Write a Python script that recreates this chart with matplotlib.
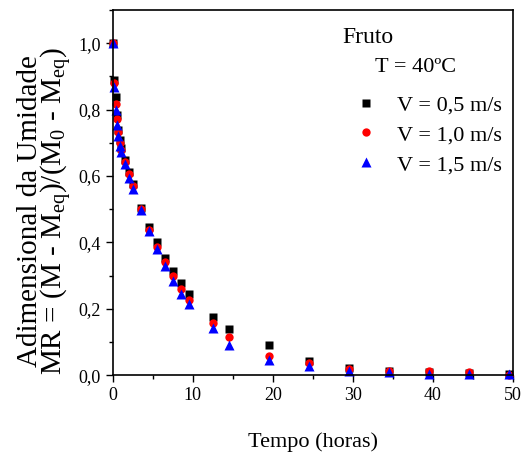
import matplotlib
matplotlib.use("Agg")
import matplotlib.pyplot as plt
from matplotlib.ticker import MultipleLocator, FuncFormatter

plt.rcParams['font.family'] = ['Liberation Serif', 'DejaVu Serif']
plt.rcParams['mathtext.fontset'] = 'custom'
plt.rcParams['mathtext.rm'] = 'Liberation Serif'
plt.rcParams['mathtext.it'] = 'Liberation Serif'

# tempo (horas)
tempo = [0, 0.17, 0.33, 0.5, 0.67, 0.83, 1.0, 1.5, 2.0, 2.5,
         3.5, 4.5, 5.5, 6.5, 7.5, 8.5, 9.5,
         12.5, 14.5, 19.5, 24.5, 29.5, 34.5, 39.5, 44.5, 49.5]

mr_v05 = [1.0, 0.89, 0.838, 0.783, 0.738, 0.708, 0.683, 0.649, 0.612, 0.575,
          0.503, 0.447, 0.40, 0.353, 0.314, 0.278, 0.246,
          0.174, 0.139, 0.092, 0.043, 0.021, 0.013, 0.010, 0.008, 0.003]
mr_v10 = [1.0, 0.88, 0.818, 0.773, 0.733, 0.70, 0.678, 0.643, 0.605, 0.569,
          0.50, 0.437, 0.386, 0.341, 0.298, 0.26, 0.228,
          0.156, 0.115, 0.058, 0.037, 0.018, 0.012, 0.013, 0.009, 0.002]
mr_v15 = [1.0, 0.868, 0.798, 0.753, 0.72, 0.69, 0.673, 0.635, 0.595, 0.562,
          0.497, 0.433, 0.38, 0.33, 0.284, 0.246, 0.213,
          0.141, 0.09, 0.045, 0.028, 0.013, 0.011, 0.003, 0.005, 0.005]

labels = ['V = 0,5 m/s', 'V = 1,0 m/s', 'V = 1,5 m/s']

fig = plt.figure(figsize=(5.25, 4.57), dpi=100)
ax = fig.add_axes([0.215, 0.179, 0.762, 0.799])

ax.plot(tempo, mr_v05, 's', color='black', ms=5.5, mec='none', clip_on=False, label=labels[0])
ax.plot(tempo, mr_v10, 'o', color='red', ms=6, mec='none', clip_on=False, label=labels[1])
ax.plot(tempo, mr_v15, '^', color='blue', ms=6.5, mec='none', clip_on=False, label=labels[2])

ax.set_xlim(0, 50)
ax.set_ylim(0, 1.1)
ax.xaxis.set_major_locator(MultipleLocator(10))
ax.xaxis.set_minor_locator(MultipleLocator(5))
ax.yaxis.set_major_locator(MultipleLocator(0.2))
ax.yaxis.set_minor_locator(MultipleLocator(0.1))
ax.yaxis.set_major_formatter(FuncFormatter(lambda v, p: f"{v:.1f}".replace('.', ',')))
ax.tick_params(which='both', direction='out', top=False, right=False, labelsize=13, width=1)
ax.tick_params(which='major', length=5)
ax.tick_params(which='minor', length=3)
for s in ax.spines.values():
    s.set_linewidth(1.2)

ax.set_xlabel('Tempo (horas)', fontsize=16, labelpad=20)
ax.set_ylabel('Adimensional da Umidade\n'
              r'MR = (M - M$_{\mathrm{eq}}$)/(M$_0$ - M$_{\mathrm{eq}}$)',
              fontsize=21, labelpad=3, linespacing=0.85)
ax.yaxis.label.set_y(0.45)

ax.text(0.5725, 0.925, 'Fruto', transform=ax.transAxes, fontsize=17, va='center')
ax.text(0.655, 0.843, 'T = 40ºC', transform=ax.transAxes, fontsize=16, va='center')
ax.legend(loc='upper left', bbox_to_anchor=(0.605, 0.768), frameon=False, fontsize=16,
          handlelength=1.0, handletextpad=0.9, labelspacing=0.42, borderpad=0,
          borderaxespad=0)

fig.savefig('out.png', dpi=100)
